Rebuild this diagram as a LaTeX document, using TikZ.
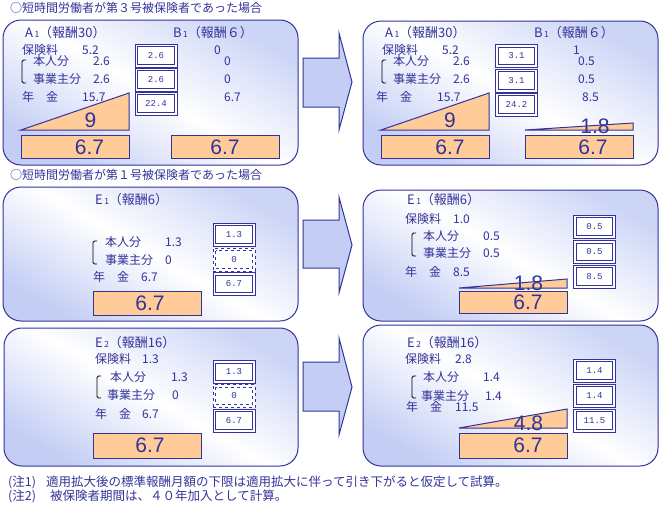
\documentclass[tikz,border=0pt]{standalone}
\usepackage{fontspec}
\setmainfont{Noto Sans CJK JP}
\newfontfamily\bignumfont{Liberation Sans}
\newfontfamily\boxnumfont{Liberation Mono}
\usepackage{tikz}
\definecolor{ink}{RGB}{51,51,153}
\definecolor{peach}{RGB}{255,204,153}
\definecolor{paleblue}{RGB}{196,206,245}
\newcommand{\lowidx}[1]{{\fontsize{8.5}{8.5}\selectfont\,#1}}
\tikzset{
  txt/.style={anchor=west, inner sep=0pt, text=ink, font=\fontsize{12}{12}\selectfont},
  head/.style={anchor=west, inner sep=0pt, text=ink, font=\fontsize{13}{13}\selectfont},
  note/.style={anchor=west, inner sep=0pt, text=ink, font=\fontsize{12.5}{12.5}\selectfont},
  bignum/.style={inner sep=0pt, text=ink, font=\bignumfont\fontsize{21}{21}\selectfont},
  panel/.style={draw=ink, line width=1pt, rounded corners=18pt,
    bottom color=paleblue, top color=paleblue!85, middle color=white, shading angle=-30},
  bigarrow/.style={draw=ink, line width=1pt, fill=paleblue},
  tri/.style={draw=ink, line width=1pt, fill=peach},
  pbox/.style={draw=ink, line width=1pt, fill=peach},
  innerline/.style={},
  dbox/.style={draw=ink, line width=0.8pt, fill=white,
    minimum width=42pt, minimum height=23pt, inner sep=0pt, text=ink,
    font=\boxnumfont\fontsize{9}{9}\selectfont,
    path picture={\draw[ink, line width=0.8pt, innerline]
      ([shift={(2.7pt,-2.7pt)}]path picture bounding box.north west) rectangle
      ([shift={(-2.7pt,2.7pt)}]path picture bounding box.south east);}},
  dashbox/.style={dbox, dashed, innerline/.style={dashed}},
  brace/.style={draw=black, line width=0.8pt, rounded corners=1.5pt}
}

\begin{document}
\begin{tikzpicture}[x=1pt, y=-1pt]
  \useasboundingbox (0,0) rectangle (663,506);

  % panels
  \draw[panel] (3,20) rectangle (298,165);
  \draw[panel] (363,21) rectangle (658,165);
  \draw[panel] (3,187) rectangle (298,321);
  \draw[panel] (363,190) rectangle (658,321);
  \draw[panel] (4,328) rectangle (298,466);
  \draw[panel] (363,325) rectangle (658,466);

  % arrows between the panels
  \draw[bigarrow] (303,58) -- (339,58) -- (339,33) -- (352,82) -- (339,130) -- (339,107) -- (303,107) -- cycle;
  \draw[bigarrow] (303,220) -- (339,220) -- (339,197) -- (352,245) -- (339,293) -- (339,268) -- (303,268) -- cycle;
  \draw[bigarrow] (303,362) -- (339,362) -- (339,338) -- (352,387) -- (339,435) -- (339,411) -- (303,411) -- cycle;

  % headings
  \node[txt] (hd1) at (10,8) {○短時間労働者が第３号被保険者であった場合};
  \node[txt] (hd2) at (10,175) {○短時間労働者が第１号被保険者であった場合};

  % ---- A1 / B1 before
  \node[head] (a1) at (25,33) {A\lowidx{1}（報酬30）};
  \node[head] (b1) at (173,33) {B\lowidx{1}（報酬６）};
  \node[txt] (a1prem) at (22,50) {保険料};
  \node[txt] (a1premv) at (82,50) {5.2};
  \node[txt] (a1own) at (33,61) {本人分};
  \node[txt] (a1ownv) at (93,61) {2.6};
  \node[txt] (a1emp) at (33,79) {事業主分};
  \node[txt] (a1empv) at (93,79) {2.6};
  \node[txt] (a1pen) at (22,97) {年　金};
  \node[txt] (a1penv) at (82,97) {15.7};
  \draw[brace] (26,60) -- (22,60) -- (22,83) -- (26,83);
  \node[txt] (b1premv) at (214,50) {0};
  \node[txt] (b1ownv) at (224,61) {0};
  \node[txt] (b1empv) at (224,79) {0};
  \node[txt] (b1penv) at (224,97) {6.7};
  \draw[tri] (21,130) -- (129,93) -- (129,130) -- cycle;
  \node[bignum] (a1flat) at (90.5,120) {9};
  \draw[pbox] (21,135) rectangle (129,158);
  \node[bignum] (a1base) at (89.5,147) {6.7};
  \draw[pbox] (171,135) rectangle (279,158);
  \node[bignum] (b1base) at (225,147) {6.7};
  \node[dbox] (a1c1) at (156,55.5) {2.6};
  \node[dbox] (a1c2) at (156,79.5) {2.6};
  \node[dbox] (a1c3) at (156,103.5) {22.4};

  % ---- A1 / B1 after
  \node[head] (a1r) at (385,33) {A\lowidx{1}（報酬30）};
  \node[head] (b1r) at (534,33) {B\lowidx{1}（報酬６）};
  \node[txt] (a1rprem) at (382,50) {保険料};
  \node[txt] (a1rpremv) at (442,50) {5.2};
  \node[txt] (a1rown) at (393,61) {本人分};
  \node[txt] (a1rownv) at (453,61) {2.6};
  \node[txt] (a1remp) at (393,79) {事業主分};
  \node[txt] (a1rempv) at (453,79) {2.6};
  \node[txt] (a1rpen) at (376,97) {年　金};
  \node[txt] (a1rpenv) at (437,97) {15.7};
  \draw[brace] (386,60) -- (382,60) -- (382,83) -- (386,83);
  \node[txt] (b1rpremv) at (573,50) {1};
  \node[txt] (b1rownv) at (578,61) {0.5};
  \node[txt] (b1rempv) at (578,79) {0.5};
  \node[txt] (b1rpenv) at (582,97) {8.5};
  \draw[tri] (381,130) -- (489,93) -- (489,130) -- cycle;
  \node[bignum] (a1rflat) at (450,120) {9};
  \draw[pbox] (381,135) rectangle (489,158);
  \node[bignum] (a1rbase) at (450,147) {6.7};
  \draw[tri] (525,130) -- (633,123) -- (633,130) -- cycle;
  \node[bignum] (b1rflat) at (595,126) {1.8};
  \draw[pbox] (525,135) rectangle (633,158);
  \node[bignum] (b1rbase) at (593,147) {6.7};
  \node[dbox] (a1rc1) at (516.5,56) {3.1};
  \node[dbox] (a1rc2) at (516.5,80.5) {3.1};
  \node[dbox] (a1rc3) at (516.5,104.5) {24.2};

  % ---- E1 before
  \node[head] (e1) at (95,200) {E\lowidx{1}（報酬6）};
  \node[txt] (e1own) at (105,242) {本人分};
  \node[txt] (e1ownv) at (165,242) {1.3};
  \node[txt] (e1emp) at (105,260) {事業主分};
  \node[txt] (e1empv) at (165,260) {0};
  \node[txt] (e1pen) at (93,277) {年　金};
  \node[txt] (e1penv) at (141,277) {6.7};
  \draw[brace] (97,241) -- (93,241) -- (93,264) -- (97,264);
  \draw[pbox] (93,291) rectangle (201,315);
  \node[bignum] (e1base) at (150,303) {6.7};
  \node[dbox] (e1c1) at (234,234.5) {1.3};
  \node[dashbox] (e1c2) at (234,259.5) {0};
  \node[dbox] (e1c3) at (234,284) {6.7};

  % ---- E1 after
  \node[head] (e1r) at (407,200) {E\lowidx{1}（報酬6）};
  \node[txt] (e1rprem) at (405,219) {保険料};
  \node[txt] (e1rpremv) at (453,219) {1.0};
  \node[txt] (e1rown) at (423,236) {本人分};
  \node[txt] (e1rownv) at (483,236) {0.5};
  \node[txt] (e1remp) at (423,253) {事業主分};
  \node[txt] (e1rempv) at (483,253) {0.5};
  \node[txt] (e1rpen) at (405,272) {年　金};
  \node[txt] (e1rpenv) at (453,272) {8.5};
  \draw[brace] (416,233) -- (412,233) -- (412,256) -- (416,256);
  \draw[tri] (459,288) -- (567,279) -- (567,288) -- cycle;
  \node[bignum] (e1rflat) at (528.5,283.5) {1.8};
  \draw[pbox] (459,291) rectangle (567,313);
  \node[bignum] (e1rbase) at (528,302.5) {6.7};
  \node[dbox] (e1rc1) at (594.5,226.5) {0.5};
  \node[dbox] (e1rc2) at (594.5,252) {0.5};
  \node[dbox] (e1rc3) at (594.5,276.5) {8.5};

  % ---- E2 before
  \node[head] (e2) at (95,343) {E\lowidx{2}（報酬16）};
  \node[txt] (e2prem) at (95,359) {保険料};
  \node[txt] (e2premv) at (142,359) {1.3};
  \node[txt] (e2own) at (110,377) {本人分};
  \node[txt] (e2ownv) at (171,377) {1.3};
  \node[txt] (e2emp) at (107,395) {事業主分};
  \node[txt] (e2empv) at (172,395) {0};
  \node[txt] (e2pen) at (95,414) {年　金};
  \node[txt] (e2penv) at (142,414) {6.7};
  \draw[brace] (101,376) -- (97,376) -- (97,398) -- (101,398);
  \draw[pbox] (93,433) rectangle (201,458);
  \node[bignum] (e2base) at (150,445.5) {6.7};
  \node[dbox] (e2c1) at (234,372) {1.3};
  \node[dashbox] (e2c2) at (234,396) {0};
  \node[dbox] (e2c3) at (234,420.5) {6.7};

  % ---- E2 after
  \node[head] (e2r) at (407,343) {E\lowidx{2}（報酬16）};
  \node[txt] (e2rprem) at (405,359) {保険料};
  \node[txt] (e2rpremv) at (455,359) {2.8};
  \node[txt] (e2rown) at (423,377) {本人分};
  \node[txt] (e2rownv) at (483,377) {1.4};
  \node[txt] (e2remp) at (421,396) {事業主分};
  \node[txt] (e2rempv) at (485,396) {1.4};
  \node[txt] (e2rpen) at (406,407) {年　金};
  \node[txt] (e2rpenv) at (455,407) {11.5};
  \draw[brace] (416,376) -- (412,376) -- (412,398) -- (416,398);
  \draw[tri] (459,428) -- (567,409) -- (567,428) -- cycle;
  \node[bignum] (e2rflat) at (528.5,423) {4.8};
  \draw[pbox] (459,433) rectangle (567,458);
  \node[bignum] (e2rbase) at (528,445) {6.7};
  \node[dbox] (e2rc1) at (594.5,370.5) {1.4};
  \node[dbox] (e2rc2) at (594.5,395.5) {1.4};
  \node[dbox] (e2rc3) at (594.5,420.5) {11.5};

  % notes
  \node[note] (n1) at (8,482) {(注1)};
  \node[note] (n1t) at (46,482) {適用拡大後の標準報酬月額の下限は適用拡大に伴って引き下がると仮定して試算。};
  \node[note] (n2) at (8,496) {(注2)};
  \node[note] (n2t) at (50,496) {被保険者期間は、４０年加入として計算。};
\end{tikzpicture}
\end{document}
